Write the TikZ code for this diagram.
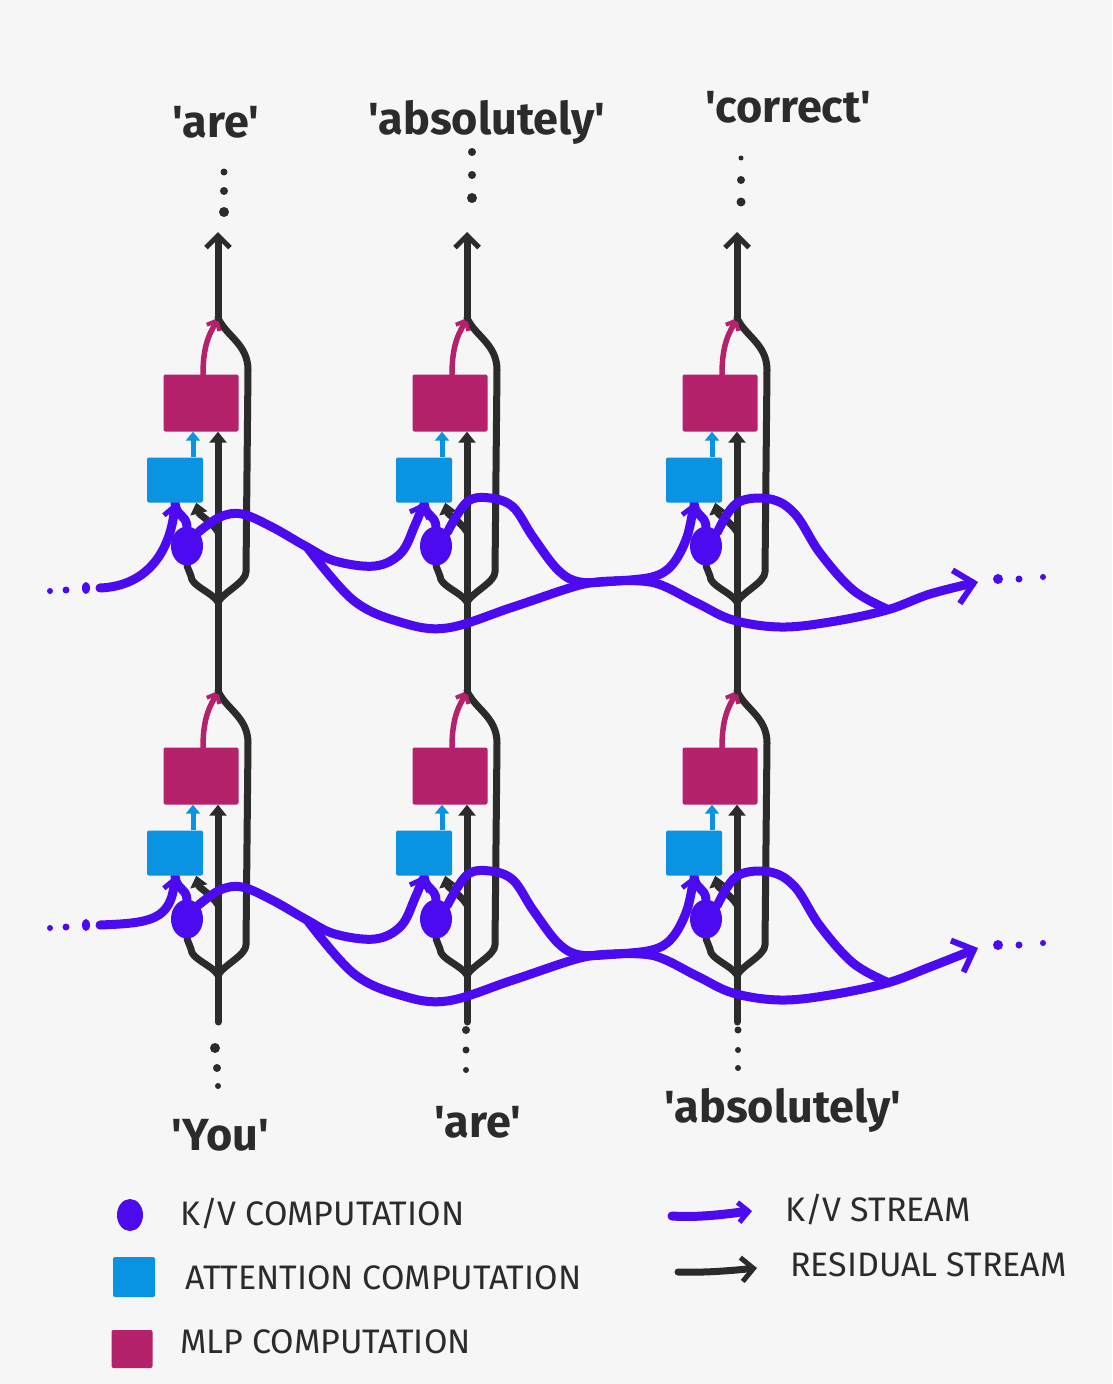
\documentclass[tikz,border=0pt]{standalone}
\usepackage{fontspec}
\newfontfamily\hand{Fira Sans}
\usetikzlibrary{arrows.meta,shapes.geometric,calc}
\pgfdeclarelayer{back}
\pgfdeclarelayer{reslayer}
\pgfdeclarelayer{kvlayer}
\pgfsetlayers{back,reslayer,kvlayer,main}
\definecolor{bgc}{HTML}{F6F6F6}
\definecolor{kvc}{HTML}{4B0AF0}
\definecolor{attc}{HTML}{0A92E3}
\definecolor{mlpc}{HTML}{B5216B}
\definecolor{resc}{HTML}{2B2B2B}
\begin{document}
\begin{tikzpicture}[x=1pt,y=-1pt,
  resline/.style={draw=resc, line width=7pt, line cap=round, line join=round},
  kvline/.style={draw=kvc, line width=9pt, line cap=round, line join=round},
  resin/.style={-{Triangle[length=11pt,width=17pt]}},
  restop/.style={-{Straight Barb[length=12pt,width=24pt,line width=5pt]}},
  mlpline/.style={draw=mlpc, line width=5.5pt, line cap=round, -{Straight Barb[length=8pt,width=14pt,line width=4pt]}},
  attline/.style={draw=attc, line width=5pt, -{Triangle[length=9pt,width=14pt]}},
  kvtip/.style={-{Straight Barb[length=10pt,width=20pt,line width=5pt]}},
  kvout/.style={-{Straight Barb[length=18pt,width=34pt,line width=6pt]}},
  mlpbox/.style={fill=mlpc, rounded corners=2pt, minimum width=75pt, minimum height=57pt, inner sep=0pt},
  attbox/.style={fill=attc, rounded corners=2pt, minimum width=56pt, minimum height=45pt, inner sep=0pt},
  kvdot/.style={ellipse, fill=kvc, minimum width=32pt, minimum height=39pt, inner sep=0pt},
  lbl/.style={font=\hand\bfseries\fontsize{45}{54}\selectfont, text=resc, inner sep=0pt},
  leg/.style={font=\hand\fontsize{34}{40}\selectfont, text=resc, anchor=west, inner sep=0pt}
]
\useasboundingbox (0,0) rectangle (1112,1384);
\begin{pgfonlayer}{back}
\fill[bgc] (0,0) rectangle (1112,1384);
\end{pgfonlayer}

% ---------- nodes and coordinates ----------
\foreach \ly/\dy/\iny/\outy in {1/0/588/582, 2/373/552/575}{
  \coordinate (in\ly) at (100,\iny+\dy);
  \coordinate (out\ly) at (978,\outy+\dy);
  \coordinate (brA\ly) at (307,547+\dy);
  \coordinate (joinB\ly) at (615,581+\dy);
  \fill[kvc] (50,\iny+\dy+3) circle (3pt) (66,\iny+\dy+2) circle (3.5pt) (86,\iny+\dy) ellipse (4pt and 6pt);
  \fill[kvc] (998,\outy+\dy-3) circle (5pt) (1019,\outy+\dy-3) circle (3.5pt) (1043,\outy+\dy-5) circle (3pt);
  \foreach \cc/\cx in {1/218,2/467,3/737}{
    \node[mlpbox] (mlp\ly\cc) at (\cx-17,403+\dy) {};
    \node[attbox] (att\ly\cc) at (\cx-43,480+\dy) {};
    \node[kvdot] (kv\ly\cc) at (\cx-31,546+\dy) {};
    \coordinate (split\ly\cc) at (\cx,602+\dy);
    \coordinate (merge\ly\cc) at (\cx,318+\dy);
    \coordinate (rtop\ly\cc) at (\cx+30,370+\dy);
    \coordinate (rbot\ly\cc) at (\cx+28,572+\dy);
    \coordinate (lbot\ly\cc) at (\cx-27,576+\dy);
    \coordinate (fork\ly\cc) at (\cx,532+\dy);
    \coordinate (attup\ly\cc) at ($(att\ly\cc.north)+(18,0)$);
    \coordinate (attin\ly\cc) at ($(att\ly\cc.south east)+(-7,0)$);
    \coordinate (mlpup\ly\cc) at ($(mlp\ly\cc.north)+(2,0)$);
  }
}
\foreach \cc/\cx in {1/218,2/467,3/737}{
  \coordinate (base\cc) at (\cx,1022);
  \coordinate (top\cc) at (\cx,232);
}

% ---------- residual stream ----------
\begin{pgfonlayer}{reslayer}
\foreach \ly in {1,2}{
  \foreach \cc in {1,2,3}{
    \draw[resline,resin] (split\ly\cc) -- (split\ly\cc |- mlp\ly\cc.south);
    \draw[resline] (split\ly\cc) .. controls +(-6,-10) and +(0,10) .. (lbot\ly\cc) -- (kv\ly\cc.south);
    \draw[resline] (split\ly\cc) .. controls +(6,-10) and +(0,10) .. (rbot\ly\cc) -- (rtop\ly\cc) .. controls +(0,-26) and +(8,18) .. (merge\ly\cc);
    \draw[resline,resin] (fork\ly\cc) .. controls +(-6,-10) and +(3,12) .. (attin\ly\cc);
    \draw[mlpline] (mlpup\ly\cc) .. controls +(0,-32) and +(-7,14) .. (merge\ly\cc);
    \draw[attline] (attup\ly\cc) -- (attup\ly\cc |- mlp\ly\cc.south);
  }
}
\foreach \cc in {1,2,3}{
  \draw[resline] (base\cc) -- (split2\cc);
  \draw[resline] (merge2\cc) -- (split1\cc);
  \draw[resline,restop] (merge1\cc) -- (top\cc);
}
\end{pgfonlayer}

% ---------- K/V stream ----------
\begin{pgfonlayer}{kvlayer}
\foreach \ly/\dy in {1/0,2/373}{
  \draw[kvline,kvtip] (in\ly) .. controls +(50,-2) and +(-4,45) .. (att\ly1.south);
  \foreach \cc in {1,2,3}{
    \draw[kvline] (kv\ly\cc.north) .. controls +(-1,-12) and +(1,14) .. (att\ly\cc.south);
  }
  \draw[kvline,kvtip] plot[smooth,tension=0.6] coordinates {(kv\ly1.north east) (220,517+\dy) (242,514+\dy) (272,527+\dy) (307,547+\dy) (335,561+\dy) (375,566+\dy) (401,553+\dy) (415,525+\dy) (att\ly2.south)};
  \draw[kvline] plot[smooth,tension=0.6] coordinates {(brA\ly) (353,600+\dy) (400,622+\dy) (447,628+\dy) (513,607+\dy) (580,585+\dy) (joinB\ly)};
  \draw[kvline] plot[smooth,tension=0.6] coordinates {(kv\ly2.north east) (467,502+\dy) (490,498+\dy) (513,507+\dy) (533,537+\dy) (558,570+\dy) (580,582+\dy) (joinB\ly)};
  \draw[kvline,kvtip] plot[smooth,tension=0.6] coordinates {(joinB\ly) (652,577+\dy) (672,565+\dy) (687,537+\dy) (att\ly3.south)};
  \draw[kvline,kvout] plot[smooth,tension=0.6] coordinates {(joinB\ly) (655,583+\dy) (697,603+\dy) (733,620+\dy) (780,627+\dy) (830,622+\dy) (887,610+\dy) (930,594+\dy) (out\ly)};
  \draw[kvline] plot[smooth,tension=0.6] coordinates {(kv\ly3.north east) (737,503+\dy) (770,499+\dy) (795,514+\dy) (820,553+\dy) (853,590+\dy) (887,609+\dy)};
}
\end{pgfonlayer}

% ---------- dots above and below ----------
\fill[resc] (224,172) circle (3.5pt) (224,191) circle (4pt) (224,212) circle (5pt);
\fill[resc] (472,152) circle (4pt) (472,175) circle (4pt) (472,198) circle (5pt);
\fill[resc] (741,158) circle (2.5pt) (741,180) circle (4pt) (741,202) circle (4.5pt);
\fill[resc] (215,1048) circle (5pt) (217,1068) circle (4pt) (218,1086) circle (3pt);
\fill[resc] (466,1030) circle (4pt) (466,1050) circle (3.5pt) (466,1070) circle (3pt);
\fill[resc] (738,1030) circle (3.5pt) (738,1050) circle (3pt) (738,1068) circle (3pt);

% ---------- token labels ----------
\node[lbl] (tOut1) at (216,122) {'are'};
\node[lbl] (tOut2) at (487,122) {'absolutely'};
\node[lbl] (tOut3) at (788,107) {'correct'};
\node[lbl] (tIn1) at (220,1135) {'You'};
\node[lbl] (tIn2) at (478,1122) {'are'};
\node[lbl] (tIn3) at (783,1110) {'absolutely'};

% ---------- legend ----------
\node[kvdot, minimum width=26pt, minimum height=32pt] (legKV) at (130,1215) {};
\node[attbox, minimum width=42pt, minimum height=40pt] (legATT) at (134,1277) {};
\node[mlpbox, minimum width=41pt, minimum height=38pt] (legMLP) at (132,1349) {};
\node[leg] (legKVtxt) at (180,1214) {K/V COMPUTATION};
\node[leg] (legATTtxt) at (185,1278) {ATTENTION COMPUTATION};
\node[leg] (legMLPtxt) at (180,1342) {MLP COMPUTATION};
\node[leg] (legKVS) at (785,1210) {K/V STREAM};
\node[leg] (legRES) at (790,1265) {RESIDUAL STREAM};
\coordinate (lk1) at (672,1216);
\coordinate (lk2) at (752,1211);
\coordinate (lr1) at (678,1272);
\coordinate (lr2) at (757,1268);
\draw[kvline,kvtip] (lk1) .. controls +(30,2) and +(-20,2) .. (lk2);
\draw[resline,restop] (lr1) .. controls +(30,1) and +(-20,2) .. (lr2);
\end{tikzpicture}
\end{document}
